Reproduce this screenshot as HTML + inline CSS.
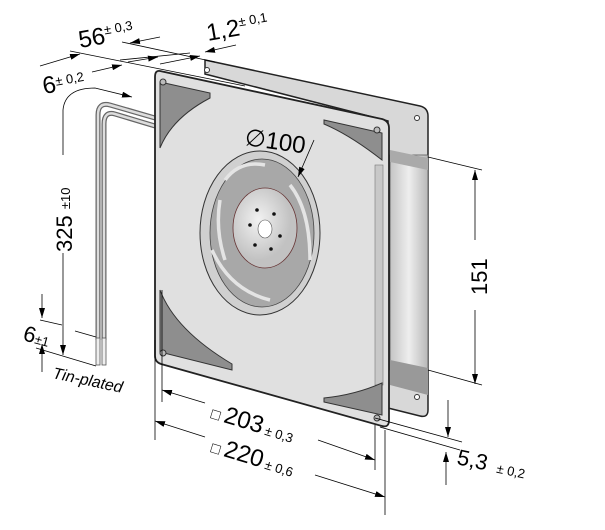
<!DOCTYPE html>
<html><head><style>
html,body{margin:0;padding:0;background:#fff;}
svg{display:block;font-family:"Liberation Sans",sans-serif;}
</style></head><body>
<svg width="605" height="530" viewBox="0 0 605 530" xmlns="http://www.w3.org/2000/svg">
<defs>
<marker id="a" viewBox="0 0 10 6" refX="10" refY="3" markerWidth="10" markerHeight="6" orient="auto" markerUnits="userSpaceOnUse"><path d="M0,0 L10,3 L0,6 z" fill="#000"/></marker>
<linearGradient id="side" x1="0" x2="1"><stop offset="0" stop-color="#c4c4c4"/><stop offset="0.5" stop-color="#eeeeee"/><stop offset="1" stop-color="#b8b8b8"/></linearGradient>
<radialGradient id="hub" cx="0.4" cy="0.4"><stop offset="0" stop-color="#f2f2f2"/><stop offset="1" stop-color="#c2c2c2"/></radialGradient>
</defs>
<path d="M205,60 L420,106 Q428,108 428,116 L428,410 Q428,418 420,416 L388,408 L388,121 L205,74 Z" fill="#d8d8d8" stroke="#222" stroke-width="1.5"/>
<circle cx="417" cy="118" r="2.5" fill="#fff" stroke="#333"/>
<circle cx="417" cy="397" r="2.5" fill="#fff" stroke="#333"/>
<circle cx="207" cy="70" r="2.5" fill="#fff" stroke="#333"/>
<rect x="390" y="155" width="38" height="215" fill="url(#side)" stroke="#555" stroke-width="0.8"/>
<path d="M390,150 L428,158 L428,170 L390,162Z" fill="#aaa"/>
<path d="M390,360 L428,368 L428,395 L390,385Z" fill="#999"/>
<path d="M155,118 L110,105 Q98,102 98,115 L98,340" fill="none" stroke="#666" stroke-width="5"/>
<path d="M155,118 L110,105 Q98,102 98,115 L98,340" fill="none" stroke="#ddd" stroke-width="2.5"/>
<path d="M155,126 L115,114 Q104,111 104,124 L104,340" fill="none" stroke="#666" stroke-width="5"/>
<path d="M155,126 L115,114 Q104,111 104,124 L104,340" fill="none" stroke="#ddd" stroke-width="2.5"/>
<rect x="96" y="338" width="4" height="27" fill="#eee" stroke="#555" stroke-width="0.8"/>
<rect x="102" y="338" width="4" height="27" fill="#eee" stroke="#555" stroke-width="0.8"/>
<path d="M160,71 L382,119 Q389,121 389,128 L389,420 Q389,428 382,426 L161,364 Q155,362 155,356 L155,77 Q155,70 160,71Z" fill="#e0e0e0" stroke="#222" stroke-width="1.8"/>
<rect x="375" y="165" width="8" height="220" fill="#c8c8c8" stroke="#777" stroke-width="0.6"/>
<path d="M160,82 L210,93 L210,98 Q172,118 160,148Z" fill="#8e8e8e" stroke="#333"/>
<path d="M324,120 L382,133 L382,160 Q350,135 324,124Z" fill="#8e8e8e" stroke="#333"/>
<path d="M160,290 Q175,330 232,364 L232,370 L160,352Z" fill="#8e8e8e" stroke="#333"/>
<path d="M324,402 L382,415 L382,383 Q355,395 324,398Z" fill="#8e8e8e" stroke="#333"/>
<circle cx="163" cy="82" r="3" fill="#bbb" stroke="#333"/>
<circle cx="377" cy="130" r="3" fill="#bbb" stroke="#333"/>
<circle cx="163" cy="353" r="3" fill="#bbb" stroke="#333"/>
<circle cx="377" cy="418" r="3" fill="#bbb" stroke="#333"/>
<ellipse cx="260" cy="233" rx="60" ry="82" fill="#d0d0d0" stroke="#333" stroke-width="1"/>
<ellipse cx="262" cy="233" rx="52" ry="74" fill="#a8a8a8" stroke="#444" stroke-width="0.8"/>
<path d="M225,180 Q240,160 265,165 M212,250 Q230,290 270,300 M290,185 Q310,210 310,260 M220,200 Q215,230 225,260" fill="none" stroke="#e4e4e4" stroke-width="3.5"/>
<ellipse cx="265" cy="228" rx="32" ry="40" fill="url(#hub)" stroke="#633" stroke-width="0.8"/>
<ellipse cx="265" cy="229" rx="7" ry="9" fill="#fff" stroke="#555" stroke-width="0.6"/>
<g fill="#111"><circle cx="257" cy="210" r="1.8"/><circle cx="274" cy="214" r="1.8"/><circle cx="250" cy="225" r="1.8"/><circle cx="280" cy="236" r="1.8"/><circle cx="255" cy="245" r="1.8"/><circle cx="271" cy="249" r="1.8"/></g>
<g stroke="#000" stroke-width="0.8" fill="none">
<line x1="314" y1="140" x2="298" y2="177" marker-end="url(#a)"/>
<line x1="120" y1="60" x2="190" y2="53"/>
<line x1="40" y1="66" x2="80" y2="54" marker-end="url(#a)"/>
<line x1="70" y1="51" x2="245" y2="86"/>
<line x1="160" y1="37" x2="130" y2="43" marker-end="url(#a)"/>
<line x1="122" y1="42" x2="215" y2="62"/>
<line x1="92" y1="72" x2="122" y2="65" marker-end="url(#a)"/>
<line x1="128" y1="62" x2="158" y2="57" marker-end="url(#a)"/>
<line x1="160" y1="64" x2="200" y2="56" marker-end="url(#a)"/>
<line x1="236" y1="45" x2="205" y2="52" marker-end="url(#a)"/>
<path d="M63,155 L63,110 Q65,88 95,88 L132,97" marker-end="url(#a)"/>
<line x1="63" y1="253" x2="63" y2="355" marker-end="url(#a)"/>
<line x1="75" y1="331" x2="96" y2="337"/>
<line x1="36" y1="348" x2="96" y2="366"/>
<line x1="42" y1="294" x2="42" y2="318" marker-end="url(#a)"/>
<line x1="42" y1="372" x2="42" y2="344" marker-end="url(#a)"/>
<line x1="40" y1="320" x2="62" y2="325"/>
<line x1="428" y1="157" x2="482" y2="170"/>
<line x1="428" y1="370" x2="482" y2="385"/>
<line x1="475" y1="240" x2="475" y2="170" marker-end="url(#a)"/>
<line x1="475" y1="310" x2="475" y2="384" marker-end="url(#a)"/>
<line x1="375" y1="418" x2="462" y2="442"/>
<line x1="380" y1="427" x2="460" y2="450"/>
<line x1="448" y1="400" x2="448" y2="437" marker-end="url(#a)"/>
<line x1="446" y1="485" x2="446" y2="452" marker-end="url(#a)"/>
<line x1="162" y1="290" x2="162" y2="402"/>
<line x1="155" y1="340" x2="155" y2="440"/>
<line x1="375" y1="425" x2="375" y2="470"/>
<line x1="385" y1="430" x2="385" y2="515"/>
<line x1="205" y1="403" x2="162" y2="390" marker-end="url(#a)"/>
<line x1="318" y1="440" x2="375" y2="460" marker-end="url(#a)"/>
<line x1="205" y1="437" x2="155" y2="421" marker-end="url(#a)"/>
<line x1="315" y1="475" x2="385" y2="497" marker-end="url(#a)"/>
</g>
<g fill="#000">
<text x="80" y="48" font-size="24" transform="rotate(-10 80 48)">56<tspan font-size="13" dy="-9">± 0,3</tspan></text>
<text x="208" y="41" font-size="24" transform="rotate(-10 208 41)">1,2<tspan font-size="13" dy="-9">± 0,1</tspan></text>
<text x="44" y="94" font-size="24" transform="rotate(-10 44 94)">6<tspan font-size="13" dy="-6">± 0,2</tspan></text>
<text x="244" y="145" font-size="24" transform="rotate(8 244 145)">∅100</text>
<text x="72" y="252" font-size="22" transform="rotate(-90 72 252)">325 <tspan font-size="13" dy="-2">±10</tspan></text>
<text x="22" y="340" font-size="22" transform="rotate(15 22 340)">6<tspan font-size="13">±1</tspan></text>
<text x="52" y="378" font-size="16" font-style="italic" transform="rotate(12 52 378)">Tin-plated</text>
<text x="487" y="295" font-size="22" transform="rotate(-90 487 295)">151</text>
<text x="456" y="464" font-size="22" transform="rotate(12 456 464)">5,3 <tspan font-size="13" dx="4">± 0,2</tspan></text>
<text x="210" y="418" font-size="24" transform="rotate(17 210 418)"><tspan font-size="15">□ </tspan>203<tspan font-size="13" dx="3">± 0,3</tspan></text>
<text x="210" y="452" font-size="24" transform="rotate(17 210 452)"><tspan font-size="15">□ </tspan>220<tspan font-size="13" dx="3">± 0,6</tspan></text>
</g>
</svg>
</body></html>
